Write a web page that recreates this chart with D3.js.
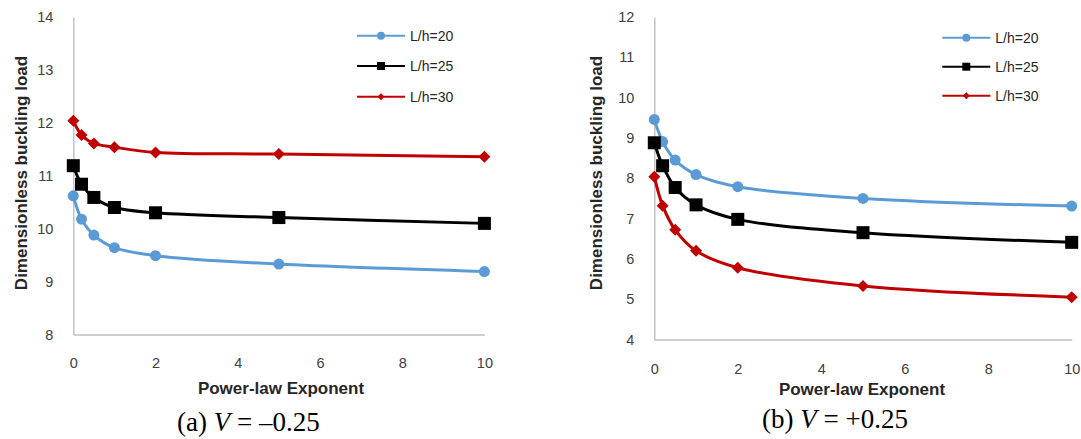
<!DOCTYPE html>
<html>
<head>
<meta charset="utf-8">
<script src="https://cdn.jsdelivr.net/npm/d3@7/dist/d3.min.js"></script>
<style>
  body { margin: 0; background: #fff; }
  svg { display: block; }
  .tick text { font-family: "Liberation Sans", Arial, sans-serif; font-size: 14.5px; fill: #404040; }
  .axis-title { font-family: "Liberation Sans", Arial, sans-serif; font-weight: bold; font-size: 17px; fill: #262626; }
  .legend-text { font-family: "Liberation Sans", Arial, sans-serif; font-size: 14px; fill: #262626; }
  .caption { font-family: "Liberation Serif", "Times New Roman", serif; font-size: 27px; fill: #000; }
</style>
</head>
<body>
<svg id="chart" width="1081" height="439"></svg>
<script>
// Power-law exponent values (shared x)
const exponents = [0, 0.2, 0.5, 1, 2, 5, 10];
const seriesNames = ["L/h=20", "L/h=25", "L/h=30"];
const xTicks = [0, 2, 4, 6, 8, 10];

// (a) V = -0.25
const leftL20 = [10.62, 10.18, 9.88, 9.64, 9.49, 9.33, 9.19];
const leftL25 = [11.19, 10.84, 10.59, 10.40, 10.30, 10.21, 10.10];
const leftL30 = [12.04, 11.77, 11.61, 11.54, 11.44, 11.41, 11.36];
const leftYTicks = [8, 9, 10, 11, 12, 13, 14];

// (b) V = +0.25
const rightL20 = [9.46, 8.91, 8.45, 8.09, 7.79, 7.50, 7.31];
const rightL25 = [8.88, 8.31, 7.77, 7.34, 6.98, 6.65, 6.41];
const rightL30 = [8.04, 7.32, 6.72, 6.20, 5.78, 5.33, 5.05];
const rightYTicks = [4, 5, 6, 7, 8, 9, 10, 11, 12];

const colors = ["#5b9bd5", "#000000", "#c00000"];
const shapes = ["circle", "square", "diamond"];

const svg = d3.select("#chart");

function marker(g, shape, x, y, s, color) {
  if (shape === "circle") {
    g.append("circle").attr("cx", x).attr("cy", y).attr("r", s / 2).attr("fill", color);
  } else if (shape === "square") {
    g.append("rect").attr("x", x - s / 2).attr("y", y - s / 2)
      .attr("width", s).attr("height", s).attr("fill", color);
  } else {
    const h = s / 2;
    g.append("path")
      .attr("d", `M${x},${y - h}L${x + h},${y}L${x},${y + h}L${x - h},${y}Z`)
      .attr("fill", color);
  }
}

function drawPanel(cfg) {
  const x = d3.scaleLinear().domain([0, 10]).range([cfg.x0, cfg.x1]);
  const y = d3.scaleLinear().domain([cfg.yTicks[0], cfg.yTicks[cfg.yTicks.length - 1]]).range([cfg.y0, cfg.y1]);
  const g = svg.append("g");

  // axes
  g.append("g")
    .attr("transform", "translate(" + cfg.x0 + ",0)")
    .call(d3.axisLeft(y).tickValues(cfg.yTicks).tickSize(0).tickPadding(20).tickFormat(d3.format("d")));
  g.append("g")
    .attr("transform", "translate(0," + cfg.y0 + ")")
    .call(d3.axisBottom(x).tickValues(xTicks).tickSize(0).tickPadding(cfg.xPad).tickFormat(d3.format("d")));
  g.selectAll(".domain").attr("stroke", "#bfbfbf").attr("stroke-width", 1.4);

  // titles
  g.append("text")
    .attr("class", "axis-title")
    .attr("x", cfg.xTitleX).attr("y", cfg.xTitleY)
    .attr("text-anchor", "middle")
    .text("Power-law Exponent");
  g.append("text")
    .attr("class", "axis-title")
    .attr("transform", "translate(" + cfg.yTitleX + "," + cfg.yTitleY + ") rotate(-90)")
    .attr("text-anchor", "middle")
    .attr("dy", "0.35em")
    .text("Dimensionless buckling load");

  // series lines
  const line = d3.line()
    .x((d, i) => x(exponents[i]))
    .y((d) => y(d))
    .curve(d3.curveCatmullRom.alpha(0.5));
  cfg.series.forEach((vals, k) => {
    g.append("path")
      .attr("d", line(vals))
      .attr("fill", "none")
      .attr("stroke", colors[k])
      .attr("stroke-width", 3);
  });
  cfg.series.forEach((vals, k) => {
    const sizes = [11, 13, 12];
    vals.forEach((v, i) => marker(g, shapes[k], x(exponents[i]), y(v), sizes[k], colors[k]));
  });

  // legend
  seriesNames.forEach((name, k) => {
    const ly = cfg.legendY[k];
    g.append("line")
      .attr("x1", cfg.legendX).attr("x2", cfg.legendX + 48)
      .attr("y1", ly).attr("y2", ly)
      .attr("stroke", colors[k]).attr("stroke-width", 2);
    marker(g, shapes[k], cfg.legendX + 24, ly, [8, 8, 7][k], colors[k]);
    g.append("text")
      .attr("class", "legend-text")
      .attr("x", cfg.legendX + 53).attr("y", ly)
      .attr("dy", "0.35em")
      .text(name);
  });

  // caption
  const cap = g.append("text")
    .attr("class", "caption")
    .attr("x", cfg.capX).attr("y", cfg.capY)
    .attr("xml:space", "preserve");
  cap.append("tspan").text(cfg.capLabel + " ");
  cap.append("tspan").attr("font-style", "italic").text("V");
  cap.append("tspan").text(" = " + cfg.capValue);
}

drawPanel({
  x0: 73.3, x1: 484.4, y0: 334.5, y1: 17,
  yTicks: leftYTicks,
  series: [leftL20, leftL25, leftL30],
  xPad: 23,
  xTitleX: 281, xTitleY: 394,
  yTitleX: 21, yTitleY: 173,
  legendX: 357, legendY: [35.7, 66, 96.7],
  capX: 177, capY: 431, capLabel: "(a)", capValue: "\u20130.25"
});

drawPanel({
  x0: 654.3, x1: 1071.7, y0: 339.5, y1: 17,
  yTicks: rightYTicks,
  series: [rightL20, rightL25, rightL30],
  xPad: 24,
  xTitleX: 862, xTitleY: 395,
  yTitleX: 596, yTitleY: 173,
  legendX: 942.3, legendY: [37.7, 66.7, 95.7],
  capX: 762, capY: 428, capLabel: "(b)", capValue: "+0.25"
});
</script>
</body>
</html>
